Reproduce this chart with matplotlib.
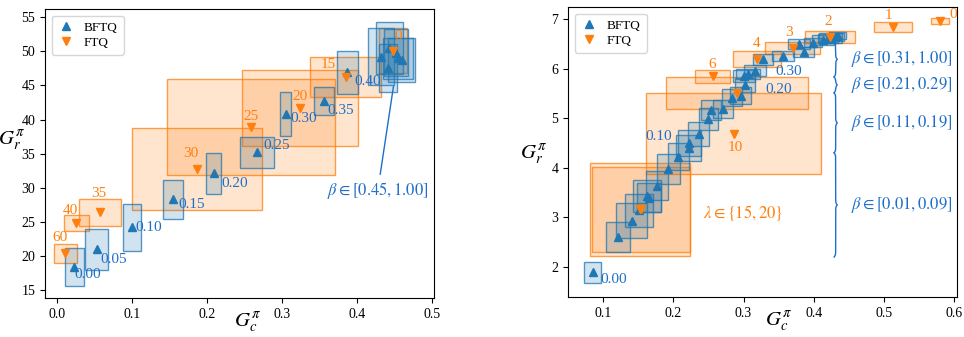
import matplotlib
matplotlib.use('Agg')
import matplotlib.pyplot as plt
from matplotlib.patches import Rectangle
from matplotlib.colors import to_rgba
import numpy as np

plt.rcParams['font.family'] = 'serif'
plt.rcParams['font.serif'] = ['Liberation Serif', 'DejaVu Serif']
plt.rcParams['mathtext.fontset'] = 'stix'

BLUE = '#1f77b4'
ORANGE = '#ff7f0e'
TXT_BLUE = '#1f6fc8'

# ---- left panel: BFTQ (beta) ----
l_beta = [0.00, 0.05, 0.10, 0.15, 0.20, 0.25, 0.30, 0.35, 0.40,
          0.45, 0.50, 0.60, 0.70, 0.80, 1.00]
l_b_gc = [0.023, 0.053, 0.100, 0.155, 0.209, 0.267, 0.305, 0.356, 0.387,
          0.432, 0.443, 0.441, 0.455, 0.460, 0.452]
l_b_gr = [18.4, 21.0, 24.2, 28.3, 32.1, 35.2, 40.8, 42.7, 46.9,
          49.2, 50.5, 47.6, 49.0, 48.7, 49.8]
l_b_sc = [0.0125, 0.0155, 0.012, 0.0135, 0.010, 0.0225, 0.0075, 0.013, 0.014,
          0.017, 0.018, 0.012, 0.020, 0.018, 0.016]
l_b_sr = [2.75, 3.0, 3.45, 2.85, 2.95, 2.25, 3.25, 2.1, 3.2,
          4.2, 3.8, 3.5, 3.0, 3.2, 3.4]
l_b_labels = ['0.00', '0.05', '0.10', '0.15', '0.20', '0.25', '0.30', '0.35', '0.40',
              '', '', '', '', '', '']
l_b_off = [(0, -8), (4, -10), (3, 0), (5, -5), (8, -10), (6, 7), (5, -4), (4, -9), (7, -9),
           (0, 0), (0, 0), (0, 0), (0, 0), (0, 0), (0, 0)]

# ---- left panel: FTQ (lambda) ----
l_lam = ['60', '40', '35', '30', '25', '20', '15', '0']
l_f_gc = [0.011, 0.026, 0.058, 0.187, 0.259, 0.324, 0.385, 0.448]
l_f_gr = [20.4, 24.8, 26.4, 32.8, 38.9, 41.7, 46.2, 50.1]
l_f_sc = [0.0155, 0.0165, 0.028, 0.0865, 0.112, 0.077, 0.0475, 0.019]
l_f_sr = [1.4, 1.2, 1.95, 6.0, 7.0, 5.6, 2.9, 3.3]
l_f_off = [(-5, 16), (-6, 13), (-2, 19), (-6, 15), (0, 11), (0, 11), (-17, 13), (5, 14)]

# ---- right panel: BFTQ (beta) ----
r_beta = [0.00, 0.01, 0.02, 0.03, 0.04, 0.05, 0.06, 0.07, 0.10, 0.11, 0.12, 0.13,
          0.14, 0.15, 0.16, 0.17, 0.20, 0.21, 0.25, 0.30, 0.31, 0.35, 0.40, 0.45,
          0.50, 0.55, 0.60, 0.70, 0.80, 0.90, 1.00]
r_b_gc = [0.085, 0.121, 0.141, 0.151, 0.163, 0.166, 0.177, 0.193, 0.207, 0.223, 0.222, 0.236,
          0.250, 0.254, 0.271, 0.284, 0.296, 0.302, 0.301, 0.306, 0.316, 0.328, 0.356, 0.386,
          0.379, 0.399, 0.413, 0.420, 0.424, 0.430, 0.434]
r_b_gr = [1.89, 2.61, 2.93, 3.14, 3.43, 3.40, 3.64, 3.98, 4.22, 4.50, 4.40, 4.68,
          4.98, 5.17, 5.19, 5.41, 5.45, 5.67, 5.85, 5.89, 5.96, 6.19, 6.25, 6.34,
          6.50, 6.52, 6.57, 6.60, 6.62, 6.64, 6.66]
r_b_sc = [0.012, 0.0175, 0.022, 0.020, 0.020, 0.017, 0.016, 0.016, 0.015, 0.016, 0.018, 0.015,
          0.014, 0.014, 0.014, 0.014, 0.015, 0.014, 0.016, 0.017, 0.016, 0.014, 0.016, 0.015,
          0.015, 0.013, 0.016, 0.014, 0.016, 0.013, 0.012]
r_b_sr = [0.22, 0.30, 0.35, 0.33, 0.32, 0.30, 0.29, 0.30, 0.27, 0.26, 0.27, 0.24,
          0.22, 0.20, 0.18, 0.17, 0.17, 0.14, 0.12, 0.10, 0.12, 0.11, 0.10, 0.10,
          0.10, 0.09, 0.10, 0.09, 0.10, 0.08, 0.07]

# ---- right panel: FTQ (lambda) ----
r_lam = ['0', '1', '2', '3', '4', '5', '6', '10', '15', '20']
r_f_gc = [0.580, 0.513, 0.423, 0.370, 0.319, 0.291, 0.256, 0.286, 0.153, 0.154]
r_f_gr = [6.96, 6.84, 6.64, 6.41, 6.20, 5.51, 5.84, 4.69, 3.16, 3.16]
r_f_sc = [0.0125, 0.027, 0.036, 0.0395, 0.034, 0.101, 0.025, 0.125, 0.071, 0.070]
r_f_sr = [0.06, 0.10, 0.12, 0.115, 0.16, 0.32, 0.13, 0.825, 0.94, 0.865]
r_f_labels = ['0', '1', '2', '3', '4', '', '6', '10', '', '']
r_f_off = [(13, 6), (-5, 11), (-2, 15), (-4, 16), (0, 15), (0, 0), (0, 12), (2, -14), (0, 0), (0, 0)]

# brace groups on the right panel
brace_ranges = [(5.83, 6.54), (5.51, 5.83), (4.30, 5.51), (2.20, 4.30)]
brace_texts = [r'$\beta \in [0.31, 1.00]$', r'$\beta \in [0.21, 0.29]$',
               r'$\beta \in [0.11, 0.19]$', r'$\beta \in [0.01, 0.09]$']


def draw_boxes(ax, gc, gr, sc, sr, color):
    for x, y, dx, dy in zip(gc, gr, sc, sr):
        ax.add_patch(Rectangle((x - dx, y - dy), 2 * dx, 2 * dy,
                               facecolor=to_rgba(color, 0.2),
                               edgecolor=to_rgba(color, 0.75), lw=1.0, zorder=1))


def draw_brace(ax, y0, y1, x0, width, color):
    n = 201
    yy = np.linspace(y0, y1, n)
    half = yy[:n // 2 + 1]
    k = 50.0
    xb = 1 / (1 + np.exp(-k * (half - half[0]))) + 1 / (1 + np.exp(-k * (half - half[-1])))
    xb = np.concatenate((xb, xb[-2::-1]))
    ax.plot(x0 + (xb - 0.5) * width, yy, color=color, lw=1.0, zorder=3)


fig = plt.figure(figsize=(9.64, 3.37), dpi=100)
ax1 = fig.add_axes([0.0467, 0.1157, 0.4035, 0.8576])
ax2 = fig.add_axes([0.5892, 0.1187, 0.4035, 0.8605])

leg_kw = dict(loc='upper left', fontsize=9.5, handlelength=1.3, handletextpad=0.7,
              labelspacing=0.2, borderpad=0.45)

# left panel
draw_boxes(ax1, l_f_gc, l_f_gr, l_f_sc, l_f_sr, ORANGE)
draw_boxes(ax1, l_b_gc, l_b_gr, l_b_sc, l_b_sr, BLUE)
ax1.plot(l_b_gc, l_b_gr, '^', color=BLUE, ms=6, ls='none', label='BFTQ', zorder=4)
ax1.plot(l_f_gc, l_f_gr, 'v', color=ORANGE, ms=6, ls='none', label='FTQ', zorder=4)
for x, y, t, off in zip(l_b_gc, l_b_gr, l_b_labels, l_b_off):
    if t:
        ax1.annotate(t, (x, y), xytext=off, textcoords='offset pixels',
                     ha='left', va='center', color=TXT_BLUE, fontsize=11, zorder=5)
for x, y, t, off in zip(l_f_gc, l_f_gr, l_lam, l_f_off):
    ax1.annotate(t, (x, y), xytext=off, textcoords='offset pixels',
                 ha='center', va='center', color=ORANGE, fontsize=11, zorder=5)
ax1.annotate(r'$\beta \in [0.45, 1.00]$', xy=(0.449, 44.9), xytext=(0.428, 29.6),
             ha='center', va='center', color=TXT_BLUE, fontsize=12,
             arrowprops=dict(arrowstyle='-', color=TXT_BLUE, lw=1.0, shrinkA=2, shrinkB=0))
ax1.set_xlim(-0.016, 0.503)
ax1.set_ylim(13.83, 56.2)
ax1.set_xticks([0.0, 0.1, 0.2, 0.3, 0.4, 0.5])
ax1.set_yticks([15, 20, 25, 30, 35, 40, 45, 50, 55])
ax1.set_xlabel(r'$G_c^\pi$', fontsize=15)
ax1.set_ylabel(r'$G_r^\pi$', fontsize=15, rotation=0, va='center')
ax1.xaxis.set_label_coords(0.52, -0.045)
ax1.yaxis.set_label_coords(-0.085, 0.545)
ax1.legend(**leg_kw)

# right panel
draw_boxes(ax2, r_f_gc, r_f_gr, r_f_sc, r_f_sr, ORANGE)
draw_boxes(ax2, r_b_gc, r_b_gr, r_b_sc, r_b_sr, BLUE)
ax2.plot(r_b_gc, r_b_gr, '^', color=BLUE, ms=6, ls='none', label='BFTQ', zorder=4)
ax2.plot(r_f_gc, r_f_gr, 'v', color=ORANGE, ms=6, ls='none', label='FTQ', zorder=4)
b_lab = {0.00: ('0.00', (8, -7), 'left'), 0.10: ('0.10', (-6, 20), 'right'),
         0.20: ('0.20', (25, 6), 'left'), 0.30: ('0.30', (28, 2), 'left')}
for b, x, y in zip(r_beta, r_b_gc, r_b_gr):
    if b in b_lab:
        t, off, ha = b_lab[b]
        ax2.annotate(t, (x, y), xytext=off, textcoords='offset pixels',
                     ha=ha, va='center', color=TXT_BLUE, fontsize=11, zorder=5)
for x, y, t, off in zip(r_f_gc, r_f_gr, r_f_labels, r_f_off):
    if t:
        ax2.annotate(t, (x, y), xytext=off, textcoords='offset pixels',
                     ha='center', va='center', color=ORANGE, fontsize=11, zorder=5)
ax2.annotate(r'$\lambda \in \{15, 20\}$', (r_f_gc[8], r_f_gr[8]), xytext=(63, -4),
             textcoords='offset pixels', ha='left', va='center', color=ORANGE, fontsize=12)
for (y0, y1), t in zip(brace_ranges, brace_texts):
    draw_brace(ax2, y0, y1, 0.429, 0.0045, TXT_BLUE)
    ax2.text(0.453, (y0 + y1) / 2, t, ha='left', va='center', color=TXT_BLUE, fontsize=12)
ax2.set_xlim(0.05, 0.604)
ax2.set_ylim(1.395, 7.24)
ax2.set_xticks([0.1, 0.2, 0.3, 0.4, 0.5, 0.6])
ax2.set_yticks([2, 3, 4, 5, 6, 7])
ax2.set_xlabel(r'$G_c^\pi$', fontsize=15)
ax2.set_ylabel(r'$G_r^\pi$', fontsize=15, rotation=0, va='center')
ax2.xaxis.set_label_coords(0.54, -0.045)
ax2.yaxis.set_label_coords(-0.088, 0.49)
ax2.legend(**leg_kw)

for ax in (ax1, ax2):
    ax.tick_params(labelsize=10)

fig.savefig('out.png', dpi=100)
